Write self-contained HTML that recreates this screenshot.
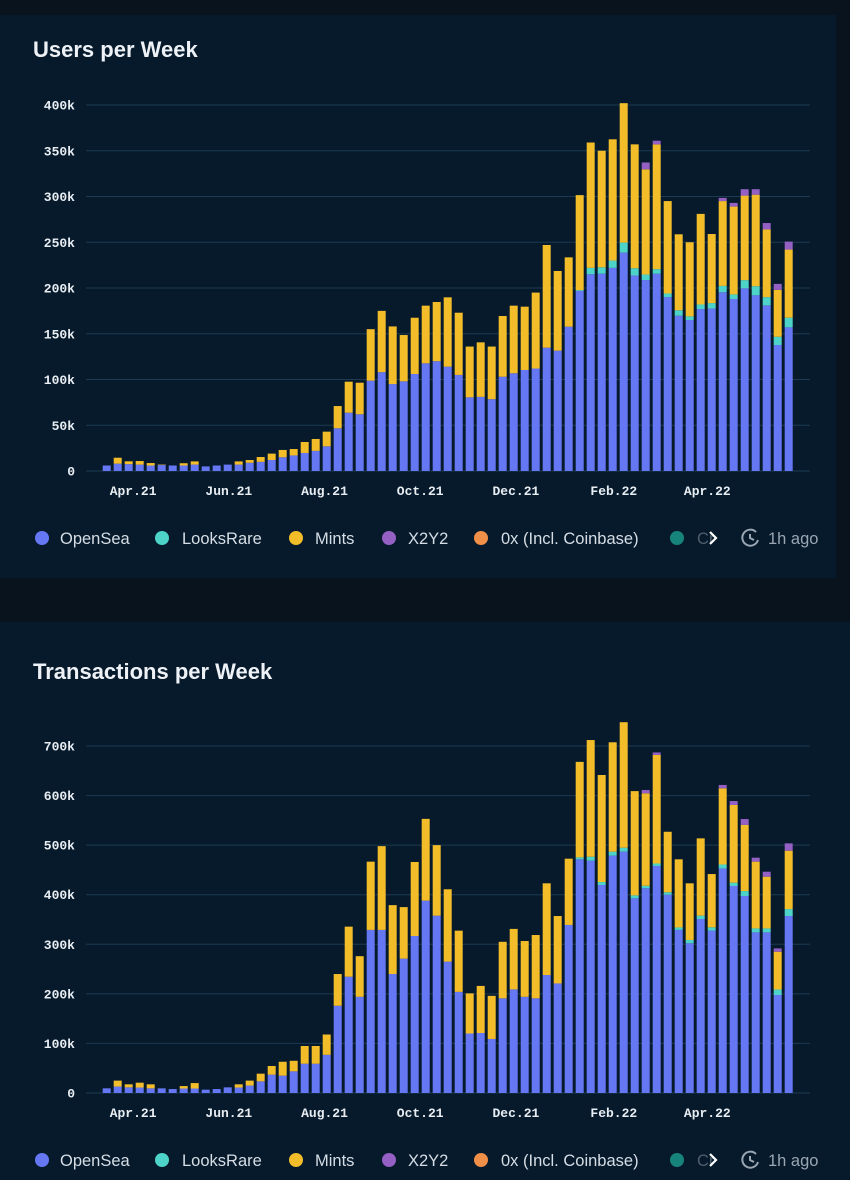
<!DOCTYPE html>
<html><head><meta charset="utf-8">
<style>
html,body{margin:0;padding:0;background:#09131e;}
svg{display:block;}
.ttl{font-family:"Liberation Sans",sans-serif;font-weight:bold;font-size:22px;fill:#eef2f6;}
.yt{font-family:"Liberation Mono",monospace;font-weight:bold;font-size:13px;fill:#e8edf2;}
.xt{font-family:"Liberation Mono",monospace;font-weight:bold;font-size:13px;fill:#e8edf2;}
.lg{font-family:"Liberation Sans",sans-serif;font-size:16.5px;fill:#d6dde4;}
</style></head>
<body>
<svg id="chart" width="850" height="1180" viewBox="0 0 850 1180">
  <rect x="0" y="0" width="850" height="1180" fill="#09131e"/>
  <rect x="0" y="15" width="836" height="563" fill="#061a2c"/>
  <rect x="0" y="622" width="850" height="558" fill="#061a2c"/>
  <text x="33" y="57" class="ttl">Users per Week</text>
  <text x="33" y="679" class="ttl">Transactions per Week</text>
  <g id="c1"></g>
  <g id="c2"></g>
</svg>
<script>
// ---- data ----
const seriesNames = ["OpenSea","LooksRare","Mints","X2Y2"];
const xLabels = ["Apr.21","Jun.21","Aug.21","Oct.21","Dec.21","Feb.22","Apr.22"];
const xLabelIdx = [2.4,11.1,19.8,28.5,37.2,46.1,54.6];
const usersTicks = [0,50,100,150,200,250,300,350,400];
const txTicks = [0,100,200,300,400,500,600,700];

// Users per week (thousands)
const usersOpenSea = [6,8,7.5,7,6,6.5,6,6,7,5,6,7,7,9,10,12,15,17,19.7,22,27,46.7,63.7,62,98.7,108,95,98,106,117.7,120,114,105,80.5,81,78.5,103,106.8,110.4,112,134.8,131.5,157.7,196.7,215,215.6,222,238.6,213.6,208.7,215.6,190,169.7,165,177,177.5,195.3,188,199.6,192,181,137.7,157];
const usersLooksRare = [0,0,0,0,0,0,0,0,0,0,0,0,0,0,0,0,0,0,0,0,0,0,0,0,0,0,0,0,0,0,0,0,0,0,0,0,0,0,0,0,0,0,0,1,7,7,8,11,8,6,5,4,6,4,5,6,7,5,9,10,9,9,10.5];
const usersMints = [0,6.5,3.1,3.9,2.7,0.5,0,2.5,3.5,0,0,0,3.5,3,5.3,7,8,7,12,13,16,24.3,33.9,34.5,56.3,67,63,50.6,61.5,63,64.7,75.8,68,55.5,59.6,57.5,66.4,73.9,69.2,83,112.2,87.1,75.8,103.8,137,127.4,132.5,152.4,135.4,115,136.4,101,83,81,99,75.5,92.7,96,92.4,100,74,51.3,74.5];
const usersX2Y2 = [0,0,0,0,0,0,0,0,0,0,0,0,0,0,0,0,0,0,0,0,0,0,0,0,0,0,0,0,0,0,0,0,0,0,0,0,0,0,0,0,0,0,0,0,0,0,0,0,0,7.5,4,0,0,0,0,0,3.5,4,7,6,7,6.5,8.7];

// Transactions per week (thousands)
const txOpenSea = [9.4,13,11.4,11,9.4,9.4,8,9,9,6.7,8,11.4,11,15,23.5,37,35,43.7,59,59,77,176,234.6,194,329,329,240,271,316.7,388,357.7,265,204,120,121,109,191,209,194,191,238,221,339,471.4,468.6,419.6,478.8,486.8,392.7,413,458,400,329,302,351,327.5,453,417.6,397.4,324,324,197.7,357];
const txLooksRare = [0,0,0,0,0,0,0,0,0,0,0,0,0,0,0,0,0,0,0,0,0,0,0,0,0,0,0,0,0,0,0,0,0,0,0,0,0,0,0,0,0,0,0,4,8,6,8,8,6,5,5,5,5,6.7,6.7,6.7,8,6.7,10,8,8,11,14];
const txMints = [0,12,6.1,9.8,8.1,0,0,5,11,0,0,0,6.5,10,15.5,17.5,28,21.3,35.8,35.8,41,64,101,82,137.7,169,139,104,149.3,165,142.3,146,123.5,81,95,87,114,122,112.6,127.7,185,136,133.7,192.6,235.4,215.9,220.7,253.2,210.3,186.6,219,122,137.4,114.3,156,107.5,153.7,156.7,133.3,134.7,104.4,76.3,117.8];
const txX2Y2 = [0,0,0,0,0,0,0,0,0,0,0,0,0,0,0,0,0,0,0,0,0,0,0,0,0,0,0,0,0,0,0,0,0,0,0,0,0,0,0,0,0,0,0,0,0,0,0,0,0,6.7,5,0,0,0,0,0,6.7,8,12,8,10,6.7,14.8];

const colors = ["#6677f4","#4ed3c8","#f3bd2a","#9460c4"];
const NS = "http://www.w3.org/2000/svg";

function mk(tag, attrs, parent){
  const e = document.createElementNS(NS, tag);
  for (const k in attrs) e.setAttribute(k, attrs[k]);
  parent.appendChild(e);
  return e;
}

function drawChart(gid, prefix, y0, pxPerUnit, ticks, series, legendY){
  const g = document.getElementById(gid);
  const yScale = v => y0 - v * pxPerUnit;
  const xScale = i => 106.7 + i * 11.0;
  ticks.forEach(t => {
    const l = mk("line", {x1:86, x2:810, y1:yScale(t), y2:yScale(t), stroke:"#1d3a50", "stroke-width":1}, g);
    
    
    const tx = mk("text", {x:75, y:yScale(t)+4.5, "text-anchor":"end", class:"yt"}, g);
    tx.textContent = t === 0 ? "0" : t + "k";
    
    
  });
  const n = series[0].length;
  for (let i = 0; i < n; i++){
    let base = 0;
    for (let s = 0; s < series.length; s++){
      const v = series[s][i];
      if (v <= 0) continue;
      const r = mk("rect", {x:xScale(i)-4, y:yScale(base+v), width:8, height:v*pxPerUnit, fill:colors[s]}, g);
      
      
      base += v;
    }
  }
  xLabels.forEach((lab, k) => {
    const tx = mk("text", {x:xScale(xLabelIdx[k]), y:y0+24, "text-anchor":"middle", class:"xt"}, g);
    tx.textContent = lab;
    
    
  });
  const items = [
    {c:"#6677f4", cx:42, tx:60, t:"OpenSea"},
    {c:"#4ed3c8", cx:162, tx:182, t:"LooksRare"},
    {c:"#f3bd2a", cx:296, tx:315, t:"Mints"},
    {c:"#9460c4", cx:389, tx:408, t:"X2Y2"},
    {c:"#f08f48", cx:481, tx:501, t:"0x (Incl. Coinbase)"},
    {c:"#17847c", cx:677, tx:697, t:"Cr"}
  ];
  items.forEach(it => {
    const c = mk("circle", {cx:it.cx, cy:legendY, r:7, fill:it.c}, g);
    
    
    const t = mk("text", {x:it.tx, y:legendY+6, class:"lg"}, g);
    t.textContent = it.t;
    if (it.t === "Cr") t.setAttribute("fill-opacity", "0.35");
    
    
  });
  const arrow = mk("path", {d:`M710 ${legendY-6} L716 ${legendY} L710 ${legendY+6}`, stroke:"#ffffff", "stroke-width":2.2, fill:"none"}, g);
  
  
  const clk = mk("path", {d:`M756 ${legendY-6} A8 8 0 1 0 758 ${legendY+2} M750 ${legendY-4} L750 ${legendY} L754 ${legendY+2}`, stroke:"#9aa6b2", "stroke-width":2, fill:"none"}, g);
  
  
  const ago = mk("text", {x:768, y:legendY+6, class:"lg"}, g);
  ago.textContent = "1h ago";
  ago.setAttribute("style", "fill:#9aa6b2");
  
  
}

drawChart("c1", "users", 471, 366/400, usersTicks, [usersOpenSea, usersLooksRare, usersMints, usersX2Y2], 538);
drawChart("c2", "transactions", 1093, 347/700, txTicks, [txOpenSea, txLooksRare, txMints, txX2Y2], 1160);
</script>
</body></html>
